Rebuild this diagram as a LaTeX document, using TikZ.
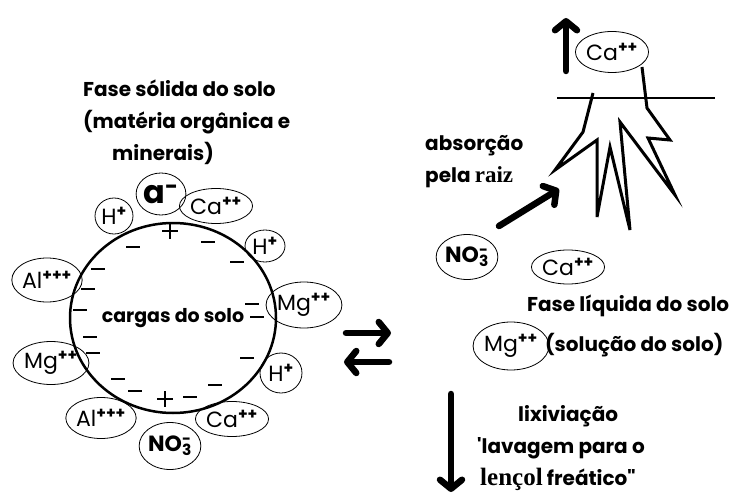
\documentclass[tikz,border=0pt]{standalone}
\usepackage{fontspec}
\setmainfont{Poppins}
\newfontfamily\rootfont{Liberation Serif}[BoldFont={Liberation Serif Bold}]
\usetikzlibrary{arrows.meta,shapes.geometric}

\begin{document}
\begin{tikzpicture}[x=1pt,y=-1pt,
  caption/.style={font=\fontsize{20}{32}\selectfont\bfseries,align=left,inner sep=0pt},
  ion/.style={draw,ellipse,line width=.8pt,inner sep=0pt,font=\fontsize{22}{22}\selectfont},
  particle/.style={draw,ellipse,line width=2.5pt,inner sep=0pt},
  charge/.style={line width=2.8pt},
  flux/.style={line width=6.5pt,line cap=round,
    -{Straight Barb[length=9pt,width=22pt,round]}},
  root/.style={line width=3pt,line join=miter}]

\path[use as bounding box] (0,0) rectangle (738,497);

% solid phase: particle and its exchangeable ions
\node[caption,anchor=north west] (solidtitle) at (83,80)
  {Fase sólida do solo\\(matéria orgânica e\\\hspace*{29pt}minerais)};
\node[particle,minimum width=206pt,minimum height=190pt,
  font=\fontsize{19}{20}\selectfont\bfseries] (soil) at (173,318) {cargas do solo};

\foreach \cx/\cy in {133/247,208/242,237/262,98/269,88/289,80/310,90/337,93/353,
                     252/304,257/317,247/358,118/379,135/391,190/397,215/385}
  \draw[charge] ({\cx-7},\cy) -- ({\cx+7},\cy);
\foreach \cx/\cy in {170/231,165/399}
  \draw[charge] ({\cx-8},\cy) -- ({\cx+8},\cy) ({\cx},{\cy-8}) -- ({\cx},{\cy+8});

\node[ion,minimum width=38pt,minimum height=36pt] (hA) at (114,216) {H\textsuperscript{\bfseries+}};
\node[ion,minimum width=45pt,minimum height=42pt] (anion) at (161,194)
  {\fontsize{32}{32}\selectfont\bfseries a\textsuperscript{-}};
\node[ion,minimum width=62pt,minimum height=35pt] (caA) at (216,206) {Ca\textsuperscript{\bfseries++}};
\node[ion,minimum width=40pt,minimum height=32pt] (hB) at (265,246) {H\textsuperscript{\bfseries+}};
\node[ion,minimum width=57pt,minimum height=46pt] (mgA) at (304,305) {Mg\textsuperscript{\bfseries++}};
\node[ion,minimum width=42pt,minimum height=40pt] (hC) at (281,373) {H\textsuperscript{\bfseries+}};
\node[ion,minimum width=62pt,minimum height=35pt] (caB) at (232,419) {Ca\textsuperscript{\bfseries++}};
\node[ion,minimum width=59pt,minimum height=47pt] (nitA) at (170,446)
  {\bfseries NO\rlap{\textsuperscript{-}}\textsubscript{3}};
\node[ion,minimum width=65pt,minimum height=41pt] (alA) at (101,418) {Al\textsuperscript{\bfseries+++}};
\node[ion,minimum width=58pt,minimum height=43pt] (mgB) at (51,363) {Mg\textsuperscript{\bfseries++}};
\node[ion,minimum width=67pt,minimum height=44pt] (alB) at (47,280) {Al\textsuperscript{\bfseries+++}};

% exchange between the two phases
\coordinate (fwdA) at (346,333);
\coordinate (fwdB) at (391,333);
\coordinate (backA) at (389,362);
\coordinate (backB) at (344,362);
\draw[flux] (fwdA) -- (fwdB);
\draw[flux] (backA) -- (backB);

% liquid phase
\node[ion,minimum width=59pt,minimum height=45pt] (nitB) at (467,257)
  {\bfseries NO\rlap{\textsuperscript{-}}\textsubscript{3}};
\node[ion,minimum width=56pt,minimum height=34pt] (caC) at (568,267) {Ca\textsuperscript{\bfseries++}};
\node[ion,minimum width=53pt,minimum height=48pt] (mgC) at (511,346) {Mg\textsuperscript{\bfseries++}};
\node[caption,anchor=north west] (liquidtitle) at (527,295)
  {Fase líquida do solo\\[8pt]\hspace*{18pt}(solução do solo)};

% root and uptake
\draw[line width=2.5pt] (557,98) coordinate (groundA) -- (715,98) coordinate (groundB);
\draw[root] (593,93) -- (583,132) -- (555,170) -- (597,140) -- (597,217) -- (610,147)
  -- (630,230) -- (620,122) -- (675,195) -- (648,138) -- (670,140) -- (647,108) -- (642,67);
\node[ion,minimum width=55pt,minimum height=41pt] (caD) at (612,52) {Ca\textsuperscript{\bfseries++}};
\coordinate (upA) at (566,71);
\coordinate (upB) at (566,18);
\draw[flux] (upA) -- (upB);
\node[caption,anchor=north west] (uptake) at (425,135)
  {absorção\\pela {\rootfont\bfseries\fontsize{23}{32}\selectfont raiz}};
\coordinate (nitout) at (499,226);
\coordinate (rootin) at (559,189);
\draw[flux] (nitout) -- (rootin);

% leaching
\coordinate (leachA) at (451,394);
\coordinate (leachB) at (451,492);
\draw[flux] (leachA) -- (leachB);
\node[caption,anchor=north west] (leaching) at (477,405)
  {\hspace*{41pt}lixiviação\\\textquotesingle lavagem para o\\
   \hspace*{3pt}{\rootfont\bfseries\fontsize{25}{32}\selectfont lençol} freático\textquotedbl};

\end{tikzpicture}
\end{document}
